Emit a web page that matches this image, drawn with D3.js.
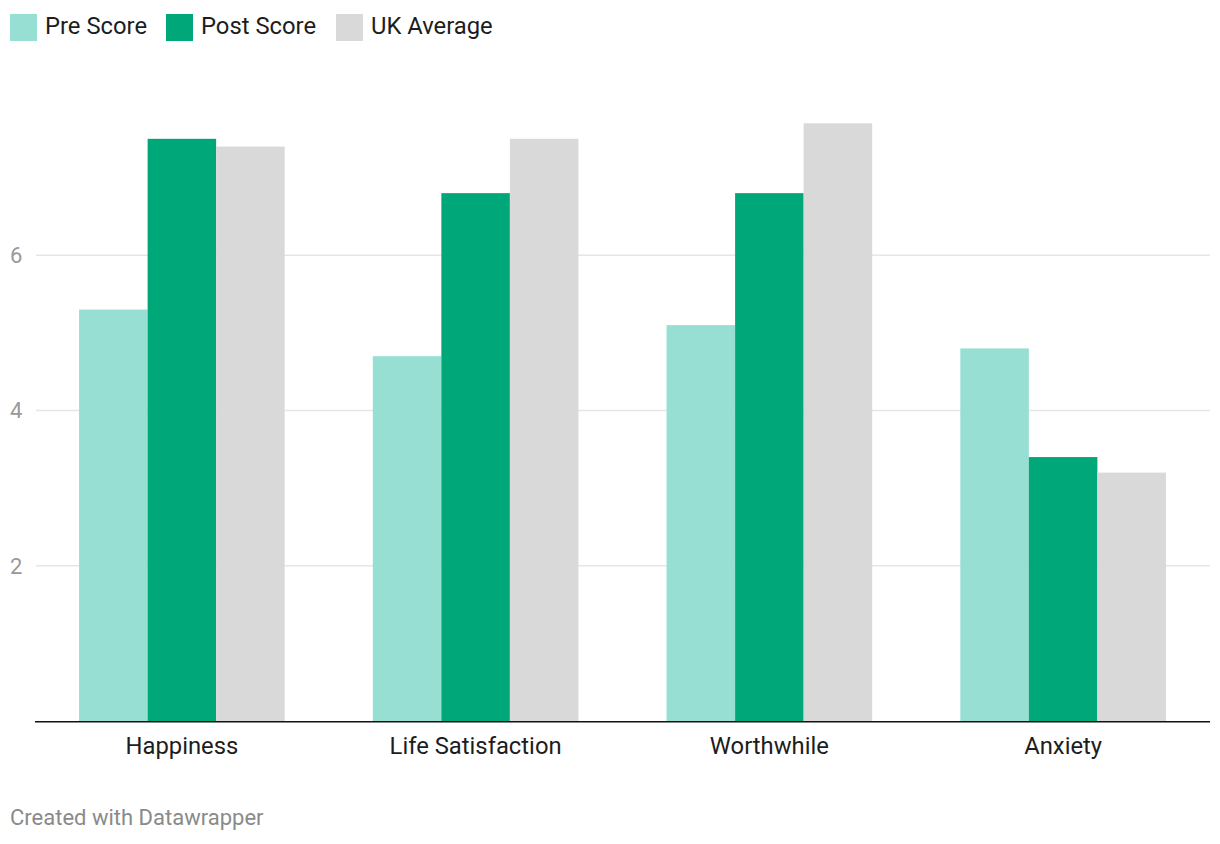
<!DOCTYPE html>
<html>
<head>
<meta charset="utf-8">
<script src="https://cdn.jsdelivr.net/npm/d3@7"></script>
<style>
	body { margin: 0; background: #fff; font-family: Roboto, "Noto Sans", sans-serif; }
	svg text { font-family: Roboto, "Noto Sans", sans-serif; }
</style>
</head>
<body>
<svg id="chart" width="1220" height="844"></svg>
<script>
"use strict";

// data
var categories = ['Happiness', 'Life Satisfaction', 'Worthwhile', 'Anxiety'];
var seriesNames = ['Pre Score', 'Post Score', 'UK Average'];
var preScore = [5.3, 4.7, 5.1, 4.8];
var postScore = [7.5, 6.8, 6.8, 3.4];
var ukAverage = [7.4, 7.5, 7.7, 3.2];
var yTicks = [2, 4, 6];
var colors = ['#97dfd3', '#00a779', '#d9d9d9'];

var svg = d3.select('#chart');
var plotLeft = 35, plotRight = 1210, plotBase = 721, plotTop = 100;

var x = d3.scaleBand().domain(categories).range([plotLeft, plotRight])
	.paddingInner(0.3).paddingOuter(0.15);
var xs = d3.scaleBand().domain(seriesNames).range([0, x.bandwidth()]);
var y = d3.scaleLinear().domain([0, 8]).range([plotBase, plotTop]);

var rows = categories.map(function(c, i) {
	return { cat: c, vals: [preScore[i], postScore[i], ukAverage[i]] };
});

//--- gridlines + tick labels
var grid = svg.append('g').attr('class', 'grid');
grid.selectAll('line').data(yTicks).enter().append('line')
	.attr('x1', plotLeft + 1).attr('x2', plotRight)
	.attr('y1', function(d){ return y(d); })
	.attr('y2', function(d){ return y(d); })
	.attr('stroke', '#e6e6e6').attr('stroke-width', 1.5);
grid.selectAll('text').data(yTicks).enter().append('text')
	.attr('x', 10)
	.attr('y', function(d){ return y(d); })
	.attr('dy', '0.36em')
	.attr('fill', '#999')
	.style('font-size', '22px')
	.text(function(d){ return d; });

//--- bars
var groups = svg.append('g').selectAll('g').data(rows).enter().append('g')
	.attr('transform', function(d){ return 'translate(' + x(d.cat) + ',0)'; });
groups.selectAll('rect')
	.data(function(d){ return d.vals.map(function(v, j){ return { s: seriesNames[j], v: v, j: j }; }); })
	.enter().append('rect')
	.attr('x', function(d){ return xs(d.s); })
	.attr('width', xs.bandwidth())
	.attr('y', function(d){ return y(d.v); })
	.attr('height', function(d){ return plotBase - y(d.v); })
	.attr('fill', function(d){ return colors[d.j]; });

//--- baseline + x axis labels
svg.append('line')
	.attr('x1', plotLeft).attr('x2', plotRight)
	.attr('y1', plotBase + 0.75).attr('y2', plotBase + 0.75)
	.attr('stroke', '#111').attr('stroke-width', 1.5);
svg.append('g').selectAll('text').data(categories).enter().append('text')
	.attr('x', function(d){ return x(d) + x.bandwidth() / 2; })
	.attr('y', 754)
	.attr('text-anchor', 'middle')
	.attr('fill', '#1d1d1d')
	.style('font-size', '23.8px')
	.text(function(d){ return d; });

//--- legend
var legendX = [10, 166, 336];
var legend = svg.append('g').attr('class', 'legend');
legend.selectAll('rect').data(seriesNames).enter().append('rect')
	.attr('x', function(d, i){ return legendX[i]; })
	.attr('y', 14).attr('width', 27).attr('height', 27)
	.attr('fill', function(d, i){ return colors[i]; });
legend.selectAll('text').data(seriesNames).enter().append('text')
	.attr('x', function(d, i){ return legendX[i] + 35; })
	.attr('y', 34)
	.attr('fill', '#1d1d1d')
	.style('font-size', '23.8px')
	.text(function(d){ return d; });

//--- footer
svg.append('text')
	.attr('x', 10).attr('y', 825)
	.attr('fill', '#8a8a8a')
	.style('font-size', '22px')
	.text('Created with Datawrapper');
</script>
</body>
</html>
